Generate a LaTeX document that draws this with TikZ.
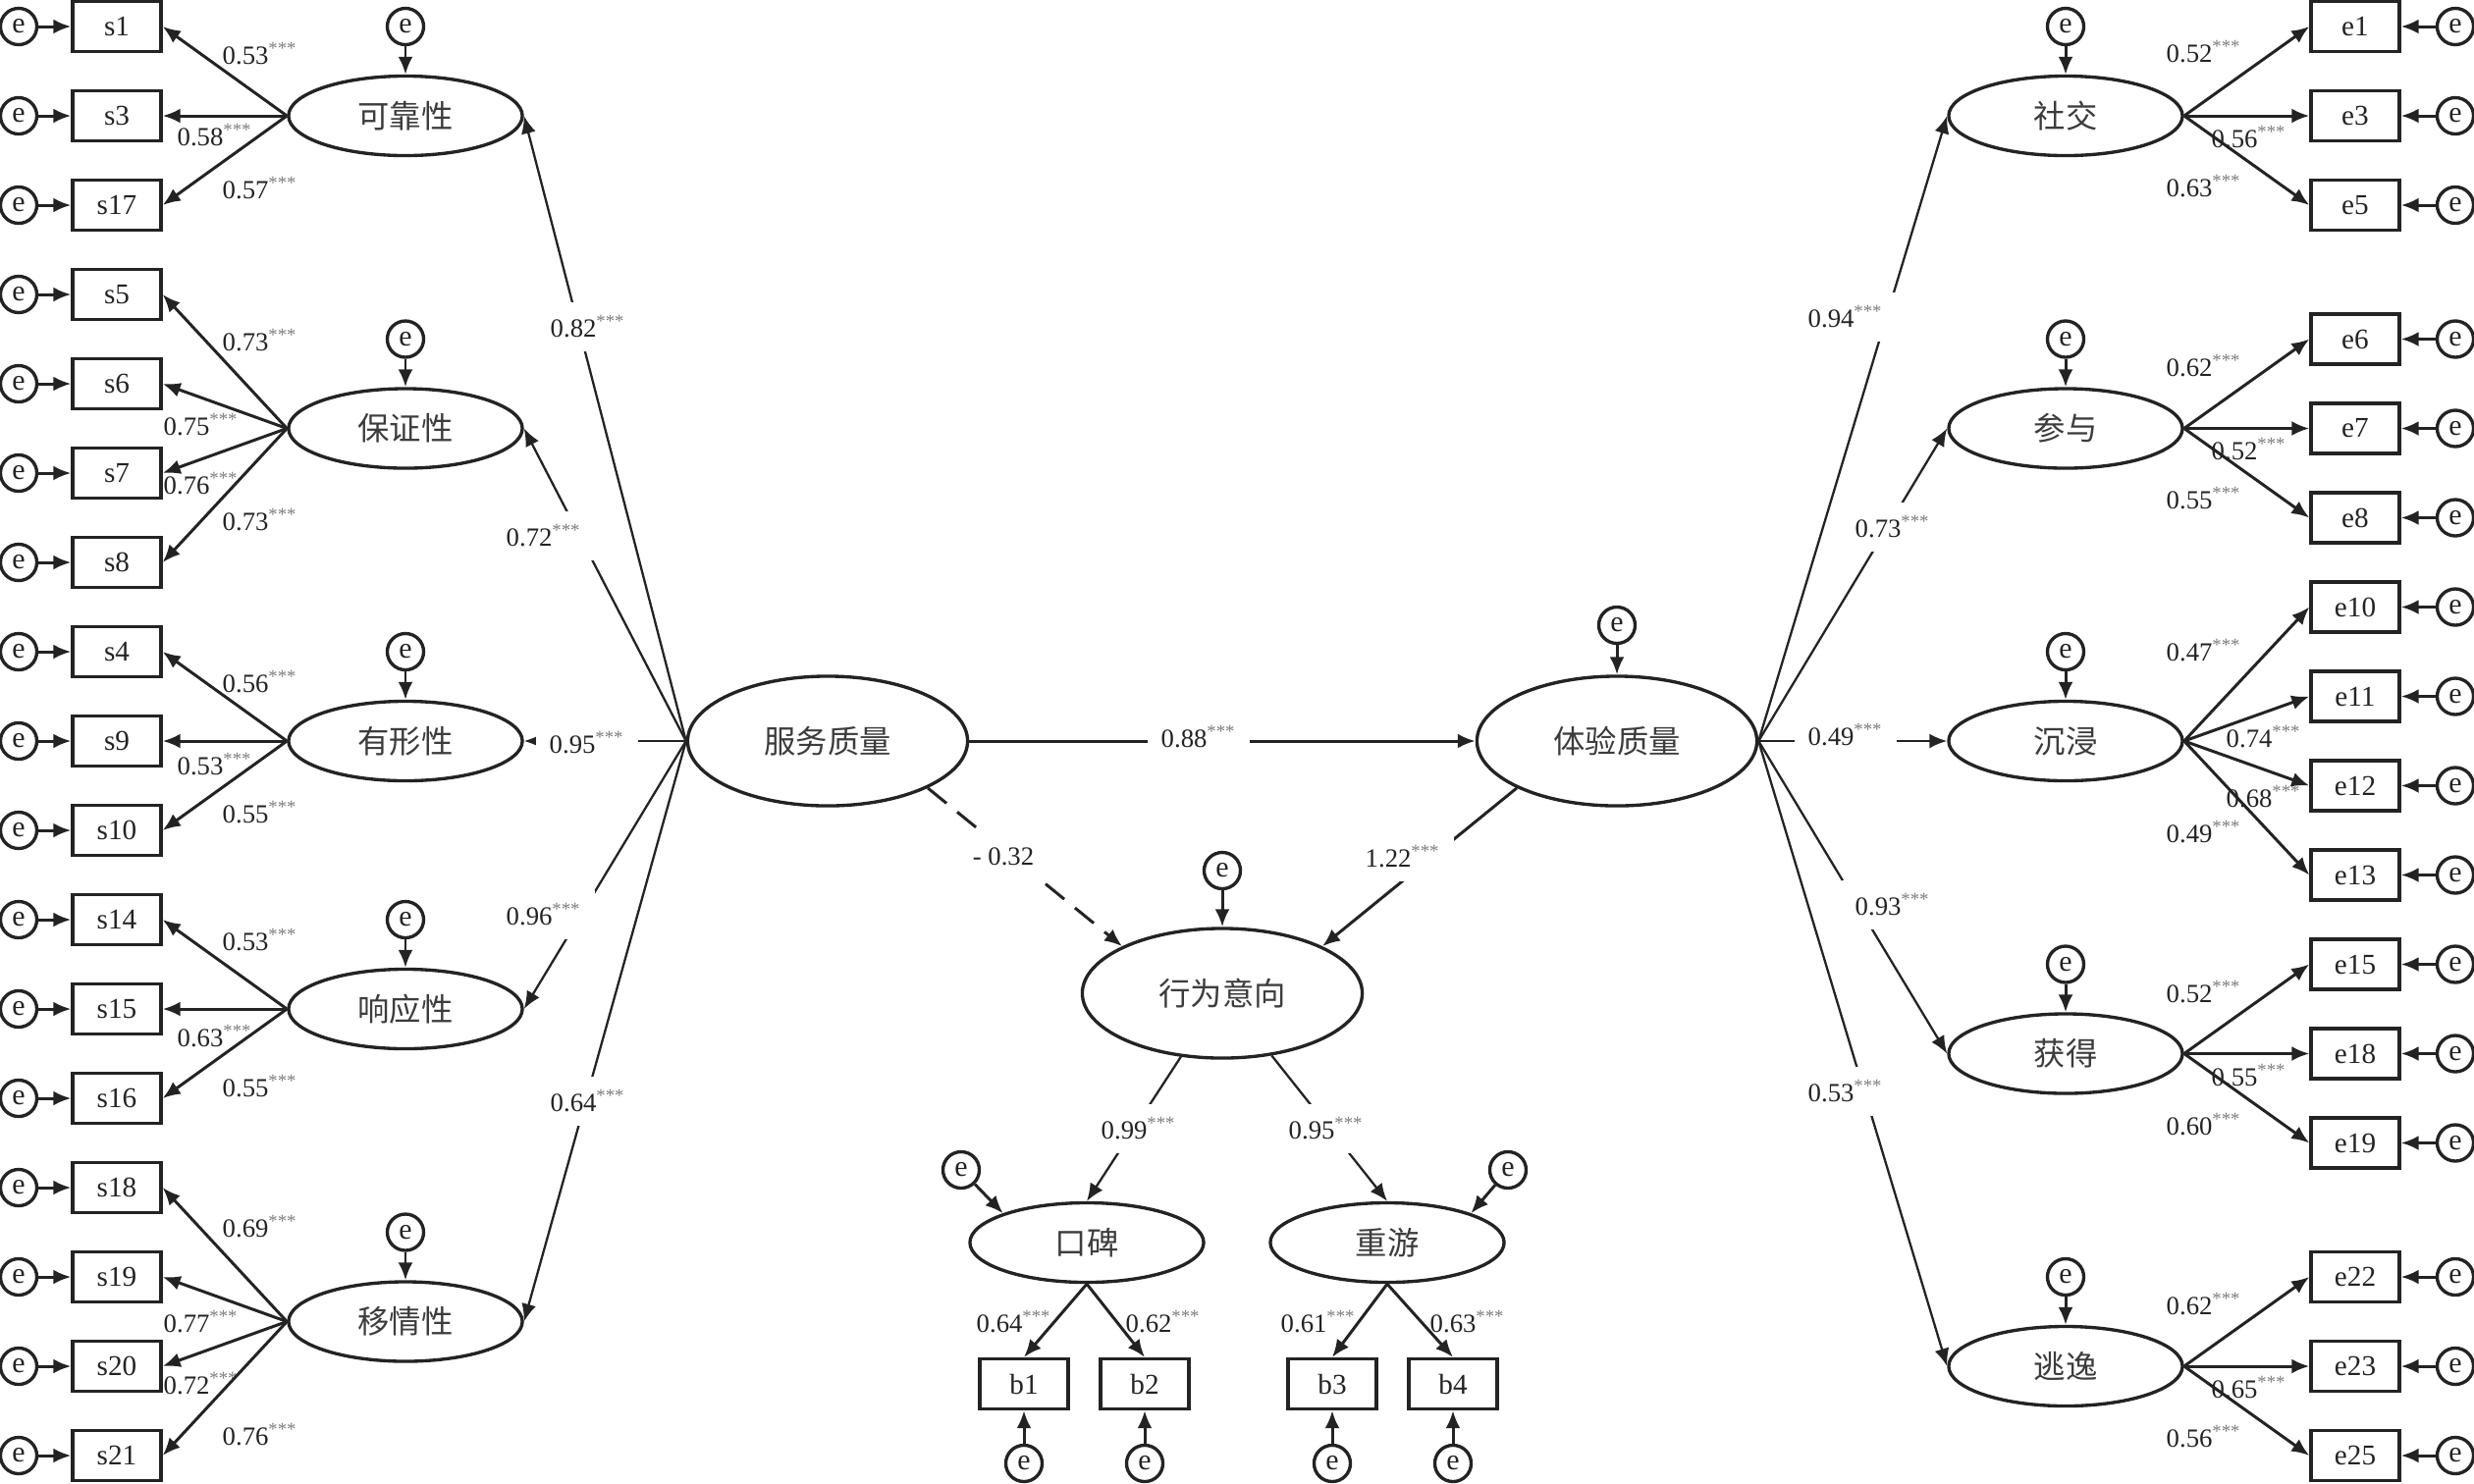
\documentclass[tikz,border=0pt]{standalone}
\usepackage{fontspec}
\setmainfont{Liberation Serif}
\newfontfamily\cjkFont{Noto Sans CJK SC}
\usepackage{tikz}
\usetikzlibrary{positioning, arrows.meta, shapes.geometric}
\definecolor{lineColor}{RGB}{35,35,35}
\definecolor{cjkColor}{RGB}{60,60,60}
\definecolor{starColor}{RGB}{125,125,125}
\tikzstyle{semPicture} = [x = 0.01cm, y = -0.01cm, every node/.style={font=\fontsize{7.6}{9}\selectfont, text=lineColor}]
\tikzstyle{latentStyle} = [ellipse, draw=lineColor, line width=0.95pt, minimum width=2.38cm, minimum height=0.81cm, inner sep=0pt, text=cjkColor, font=\cjkFont\fontsize{9.2}{11}\selectfont]
\tikzstyle{bigLatentStyle} = [latentStyle, minimum width=2.85cm, minimum height=1.32cm]
\tikzstyle{indicatorStyle} = [rectangle, draw=lineColor, line width=0.95pt, minimum width=0.9cm, minimum height=0.51cm, inner sep=0pt, font=\fontsize{8.3}{10}\selectfont]
\tikzstyle{errorStyle} = [circle, draw=lineColor, line width=0.95pt, minimum size=0.37cm, inner sep=0pt, font=\fontsize{8.5}{10}\selectfont]
\tikzstyle{loadingArrow} = [draw=lineColor, line width=0.85pt, -{Latex[length=0.18cm, width=0.15cm]}]
\tikzstyle{pathArrow} = [loadingArrow, line width=0.65pt]
\tikzstyle{dashArrow} = [loadingArrow, dash pattern=on 7pt off 4pt]
\tikzstyle{coefText} = [inner sep=1pt]
\tikzstyle{pathText} = [fill=white, inner sep=4pt]
\newcommand{\rowY}[1]{27 + 91 * #1}
\newcommand{\coef}[1]{#1\textsuperscript{\textcolor{starColor}{***}}}
\begin{document}
\begin{tikzpicture}[semPicture]
\useasboundingbox (0, 0) rectangle (2520, 1511);
\foreach \name/\row in {s1/0, s3/1, s17/2, s5/3, s6/4, s7/5, s8/6, s4/7, s9/8, s10/9, s14/10, s15/11, s16/12, s18/13, s19/14, s20/15, s21/16} {
  \node [indicatorStyle] (\name) at (119, \rowY{\row}) {\name};
  \node [errorStyle] (\name Err) at (19, \rowY{\row}) {e};
  \draw [loadingArrow] (\name Err) -- (\name);
}
\foreach \name/\row in {e1/0, e3/1, e5/2, e6/3.5, e7/4.5, e8/5.5, e10/6.5, e11/7.5, e12/8.5, e13/9.5, e15/10.5, e18/11.5, e19/12.5, e22/14, e23/15, e25/16} {
  \node [indicatorStyle] (\name) at (2399, \rowY{\row}) {\name};
  \node [errorStyle] (\name Err) at (2501, \rowY{\row}) {e};
  \draw [loadingArrow] (\name Err) -- (\name);
}
\foreach \name/\txt/\x/\row in {kekao/可靠性/413/1, baozheng/保证性/413/4.5, youxing/有形性/413/8, xiangying/响应性/413/11, yiqing/移情性/413/14.5, shejiao/社交/2104/1, canyu/参与/2104/4.5, chenjin/沉浸/2104/8, huode/获得/2104/11.5, taoyi/逃逸/2104/15} {
  \node [latentStyle] (\name) at (\x, \rowY{\row}) {\txt};
  \node [errorStyle] (\name Err) at (\x, \rowY{\row} - 91) {e};
  \draw [loadingArrow] (\name Err) -- (\name);
}
\foreach \from/\to/\val/\lx/\ly in {kekao/s1/0.53/265/55, kekao/s3/0.58/219/138, kekao/s17/0.57/265/192, baozheng/s5/0.73/265/347, baozheng/s6/0.75/205/433, baozheng/s7/0.76/205/493, baozheng/s8/0.73/265/530, youxing/s4/0.56/265/695, youxing/s9/0.53/219/779, youxing/s10/0.55/265/828, xiangying/s14/0.53/265/958, xiangying/s15/0.63/219/1056, xiangying/s16/0.55/265/1107, yiqing/s18/0.69/265/1250, yiqing/s19/0.77/205/1347, yiqing/s20/0.72/205/1410, yiqing/s21/0.76/265/1462} {
  \draw [loadingArrow] (\from.west) -- (\to.east);
  \node [coefText] (c\to) at (\lx, \ly) {\coef{\val}};
}
\foreach \from/\to/\val/\lx/\ly in {shejiao/e1/0.52/2245/53, shejiao/e3/0.56/2291/140, shejiao/e5/0.63/2245/190, canyu/e6/0.62/2245/373, canyu/e7/0.52/2291/458, canyu/e8/0.55/2245/508, chenjin/e10/0.47/2245/663, chenjin/e11/0.74/2306/751, chenjin/e12/0.68/2306/812, chenjin/e13/0.49/2245/848, huode/e15/0.52/2245/1011, huode/e18/0.55/2291/1096, huode/e19/0.60/2245/1146, taoyi/e22/0.62/2245/1329, taoyi/e23/0.65/2291/1414, taoyi/e25/0.56/2245/1464} {
  \draw [loadingArrow] (\from.east) -- (\to.west);
  \node [coefText] (c\to) at (\lx, \ly) {\coef{\val}};
}
\node [bigLatentStyle] (fuwu) at (843, \rowY{8}) {服务质量};
\node [bigLatentStyle] (tiyan) at (1647, \rowY{8}) {体验质量};
\node [bigLatentStyle] (xingwei) at (1245, 1012) {行为意向};
\node [errorStyle] (tiyanErr) at (1647, \rowY{8} - 118) {e};
\node [errorStyle] (xingweiErr) at (1245, 887) {e};
\draw [loadingArrow] (tiyanErr) -- (tiyan);
\draw [loadingArrow] (xingweiErr) -- (xingwei);
\foreach \to/\val/\lx/\ly in {kekao/0.82/599/333, baozheng/0.72/554/546, youxing/0.95/598/757, xiangying/0.96/554/932, yiqing/0.64/599/1122} {
  \draw [pathArrow] (fuwu.west) -- (\to.east);
  \node [pathText] (p\to) at (\lx, \ly) {\coef{\val}};
}
\foreach \to/\val/\lx/\ly in {shejiao/0.94/1880/323, canyu/0.73/1928/537, chenjin/0.49/1880/749, huode/0.93/1928/922, taoyi/0.53/1880/1112} {
  \draw [pathArrow] (tiyan.east) -- (\to.west);
  \node [pathText] (p\to) at (\lx, \ly) {\coef{\val}};
}
\draw [loadingArrow] (fuwu) -- (tiyan);
\node [pathText] (pMain) at (1221, 751) {\coef{0.88}};
\draw [dashArrow] (fuwu.south east) -- (xingwei.north west);
\node [pathText] (pService) at (1022, 873) {- 0.32};
\draw [loadingArrow] (tiyan.south west) -- (xingwei.north east);
\node [pathText] (pExperience) at (1429, 873) {\coef{1.22}};
\node [latentStyle] (koubei) at (1107, 1266) {口碑};
\node [latentStyle] (chongyou) at (1413, 1266) {重游};
\node [errorStyle] (koubeiErr) at (979, 1192) {e};
\node [errorStyle] (chongyouErr) at (1536, 1192) {e};
\draw [loadingArrow] (koubeiErr) -- (koubei.north west);
\draw [loadingArrow] (chongyouErr) -- (chongyou.north east);
\draw [pathArrow] (xingwei) -- (koubei.north);
\draw [pathArrow] (xingwei) -- (chongyou.north);
\node [pathText] (pKoubei) at (1160, 1150) {\coef{0.99}};
\node [pathText] (pChongyou) at (1351, 1150) {\coef{0.95}};
\foreach \name/\from/\x/\val/\lx in {b1/koubei/1043/0.64/1033, b2/koubei/1166/0.62/1185, b3/chongyou/1357/0.61/1343, b4/chongyou/1480/0.63/1495} {
  \node [indicatorStyle] (\name) at (\x, 1410) {\name};
  \node [errorStyle] (\name Err) at (\x, 1491) {e};
  \draw [loadingArrow] (\name Err) -- (\name);
  \draw [loadingArrow] (\from.south) -- (\name.north);
  \node [coefText] (c\name) at (\lx, 1347) {\coef{\val}};
}
\end{tikzpicture}
\end{document}
